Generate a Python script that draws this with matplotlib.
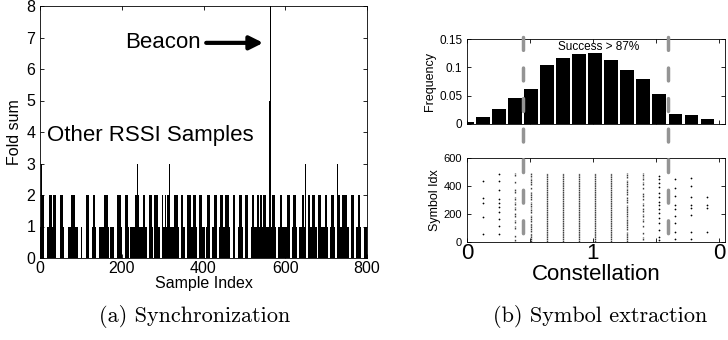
import numpy as np
import matplotlib
matplotlib.use("Agg")
import matplotlib.pyplot as plt
from matplotlib.lines import Line2D
import matplotlib.transforms as mtransforms

plt.rcParams['font.family'] = ['Liberation Sans', 'DejaVu Sans']

# ---- (a) synchronization: fold sum per sample (base value 1) ----
n_samples = 800
zero_runs = [(11, 16), (40, 47), (59, 67), (93, 99), (103, 113), (121, 127), (137, 144),
             (168, 171), (181, 187), (201, 207), (217, 220), (261, 266), (277, 280),
             (293, 298), (339, 344), (354, 359), (383, 388), (403, 406), (417, 421),
             (433, 437), (466, 471), (478, 484), (496, 501), (510, 514), (577, 582),
             (610, 615), (629, 633), (649, 654), (677, 680), (704, 709), (721, 725),
             (755, 759), (767, 771), (786, 791)]
two_runs = [(2, 10), (22, 29), (32, 38), (50, 56), (77, 85), (113, 119), (130, 134),
            (156, 166), (189, 197), (209, 214), (233, 241), (252, 257), (267, 272),
            (280, 287), (298, 301), (305, 308), (311, 317), (329, 336), (346, 350),
            (360, 368), (374, 380), (390, 396), (409, 414), (425, 431), (441, 447),
            (452, 461), (471, 475), (486, 492), (502, 507), (519, 523), (531, 535),
            (539, 542), (545, 551), (567, 574), (588, 592), (604, 610), (620, 625),
            (641, 646), (655, 660), (665, 673), (680, 686), (698, 702), (713, 719),
            (727, 732), (739, 750), (761, 767), (778, 783)]
three_idx = [3, 24, 83, 238, 316, 330, 391, 454, 572, 649, 727, 745]
peak_idx = [561, 562, 563]
peak_vals = [5, 5, 8]

# ---- (b) symbol extraction ----
freq = [0.004, 0.012, 0.026, 0.046, 0.062, 0.105, 0.117, 0.123, 0.125, 0.113,
        0.095, 0.079, 0.053, 0.018, 0.016, 0.008]
bounds = [3.5, 12.55]
# sparse columns: bin -> symbol indices
sparse_cols = {
    1: [436, 312, 276, 176, 57],
    2: [486, 438, 371, 307, 281, 252, 214, 162, 114, 57],
    12: [471, 448, 419, 390, 352, 324, 288, 264, 233, 205, 169, 138, 86, 33, 14],
    13: [448, 383, 329, 264, 233, 186, 138, 74, 19],
    14: [455, 400, 324, 264, 240, 190, 74, 19],
    15: [324, 264, 240, 74],
}
# dense columns: bin -> runs of symbol indices
dense_cols = {
    3: [(471, 490), (419, 438), (352, 376), (300, 319), (264, 288), (229, 248),
        (181, 205), (138, 157), (95, 114), (33, 50), (10, 19)],
    4: [(466, 490), (407, 455), (376, 390), (300, 360), (252, 288), (205, 241),
        (145, 193), (74, 133), (2, 62)],
    5: [(0, 495)], 6: [(0, 495)], 7: [(0, 495)], 8: [(0, 495)], 9: [(0, 495)],
    10: [(455, 495), (395, 443), (336, 383), (276, 324), (181, 264), (86, 169), (2, 74)],
    11: [(470, 495), (445, 467), (410, 430), (376, 395), (324, 352), (300, 312),
         (257, 281), (217, 241), (181, 200), (145, 162), (105, 121), (57, 74), (14, 33)],
}
const_ticks = [0, 3.93, 7.86, 11.8, 15.73]
const_labels = ['0', '', '1', '', '0']

vals = np.ones(n_samples)
for a, b in zero_runs:
    vals[a:b + 1] = 0
for a, b in two_runs:
    vals[a:b + 1] = 2
vals[three_idx] = 3
vals[peak_idx] = peak_vals

fig = plt.figure(figsize=(7.28, 3.40), dpi=100)

def box_style(ax, size):
    ax.tick_params(direction='in', top=True, right=True, labelsize=size, length=3, width=0.6)
    for s in ax.spines.values():
        s.set_linewidth(0.6)

# left panel
ax = fig.add_axes([40 / 728, 82 / 340, 327 / 728, 252 / 340])
ax.bar(np.arange(n_samples), vals, width=1.0, color='black', linewidth=0, align='edge')
ax.set_xlim(0, 800)
ax.set_ylim(0, 8)
ax.set_xticks([0, 200, 400, 600, 800])
ax.set_yticks(range(9))
box_style(ax, 11.5)
ax.tick_params(axis='x', pad=2)
ax.set_xlabel('Sample Index', fontsize=11.5, labelpad=0)
ax.set_ylabel('Fold sum', fontsize=11.5, labelpad=3)
ax.annotate('Beacon', xy=(546, 6.83), xytext=(208, 6.83), fontsize=16, va='center',
            arrowprops=dict(arrowstyle='-|>', color='black', lw=3, mutation_scale=20,
                            shrinkA=2, shrinkB=0))
ax.text(17, 3.9, 'Other RSSI Samples', fontsize=16, va='center')

# right top: histogram
bins = np.arange(len(freq))
ax1 = fig.add_axes([467 / 728, 216 / 340, 258 / 728, 85 / 340])
ax1.bar(bins, freq, width=0.85, color='black')
ax1.set_xlim(0, 16.1)
ax1.set_ylim(0, 0.15)
ax1.set_yticks([0, 0.05, 0.1, 0.15])
ax1.set_yticklabels(['0', '0.05', '0.1', '0.15'])
ax1.set_xticks(const_ticks)
ax1.set_xticklabels([])
box_style(ax1, 8.5)
ax1.set_ylabel('Frequency', fontsize=9, labelpad=2)
ax1.text(8.2, 0.136, 'Success > 87%', fontsize=8.5, ha='center', va='center')

# right bottom: symbol scatter
ax2 = fig.add_axes([467 / 728, 98 / 340, 258 / 728, 84 / 340])
for b, ys in sparse_cols.items():
    ax2.scatter(np.full(len(ys), b), ys, s=1.6, color='black', linewidths=0)
for b, runs in dense_cols.items():
    for y0, y1 in runs:
        ax2.vlines(b, y0, y1, color='0.25', lw=1.0, linestyles=(0, (1.2, 0.4)))
ax2.set_xlim(0, 16.1)
ax2.set_ylim(0, 600)
ax2.set_yticks([0, 200, 400, 600])
ax2.set_xticks(const_ticks)
ax2.set_xticklabels(const_labels)
box_style(ax2, 8)
ax2.tick_params(axis='x', labelsize=16, pad=1)
ax2.set_ylabel('Symbol Idx', fontsize=9, labelpad=2)
ax2.set_xlabel('Constellation', fontsize=16, labelpad=0)

# dashed boundaries across both right panels
trans = mtransforms.blended_transform_factory(ax1.transData, fig.transFigure)
for bx in bounds:
    ln = Line2D([bx, bx], [1 - 37 / 340, 1 - 244 / 340], transform=trans, color='0.58',
                lw=2.5, dash_capstyle='round')
    ln.set_dashes([3.7, 5.1])
    fig.add_artist(ln)

fig.text(195 / 728, 1 - 316 / 340, '(a) Synchronization', family='cmr10', fontsize=16,
         ha='center', va='center')
fig.text(600 / 728, 1 - 316 / 340, '(b) Symbol extraction', family='cmr10', fontsize=16,
         ha='center', va='center')

fig.savefig('out.png', dpi=100)
